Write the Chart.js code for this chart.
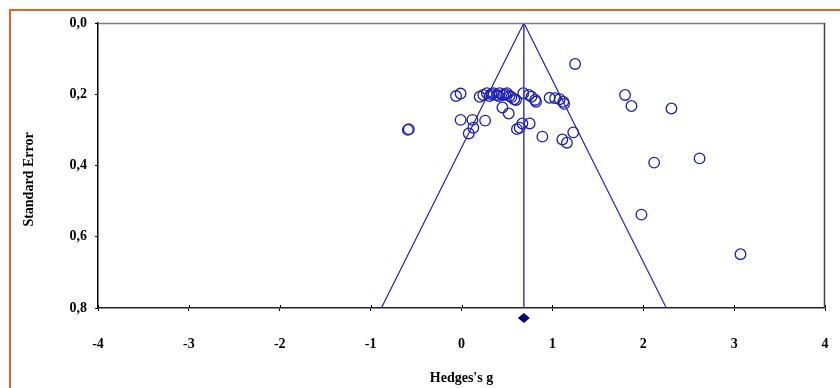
<!DOCTYPE html>
<html>
<head>
<meta charset="utf-8">
<script src="https://cdn.jsdelivr.net/npm/chart.js@4.4.1/dist/chart.umd.min.js"></script>
<style>
  html, body { margin: 0; padding: 0; background: #ffffff; }
  canvas { display: block; }
</style>
</head>
<body>
<canvas id="c" width="840" height="388"></canvas>
<script>
// ---- Data ----
const hedgesG = [
  1.25, -0.06, -0.01, 0.20, 0.24, 0.28, 0.31, 0.33, 0.35, 0.39, 0.41, 0.42, 0.46, 0.48,
  0.50, 0.53, 0.55, 0.58, 0.60, 0.68, 0.74, 0.77, 0.81, 0.82, 0.97, 1.03, 1.08, 1.12,
  1.13, 0.45, 0.52, -0.01, 0.12, 0.26, 0.13, 0.08, 0.67, 0.75, 0.61, 0.64, 0.89, 1.11,
  1.16, 1.23, -0.59, -0.58, 1.80, 1.87, 2.31, 2.12, 2.62, 1.98, 3.07
];
const standardError = [
  0.115, 0.205, 0.198, 0.207, 0.202, 0.197, 0.205, 0.200, 0.197, 0.202, 0.205, 0.197, 0.202, 0.200,
  0.197, 0.205, 0.208, 0.214, 0.216, 0.197, 0.202, 0.207, 0.216, 0.221, 0.210, 0.211, 0.214, 0.221,
  0.227, 0.237, 0.254, 0.272, 0.272, 0.274, 0.294, 0.310, 0.282, 0.282, 0.298, 0.294, 0.319, 0.327,
  0.336, 0.307, 0.300, 0.298, 0.202, 0.233, 0.240, 0.392, 0.380, 0.538, 0.649
];
const funnelX = [-0.882, 0.686, 2.254];
const funnelY = [0.8, 0.0, 0.8];
const meanLineX = [0.686, 0.686];
const meanLineY = [0.0, 0.8];
const diamondX = [0.686];
const diamondY = [0.828];
const xTicks = [-4, -3, -2, -1, 0, 1, 2, 3, 4];
const yTicks = [0.0, 0.2, 0.4, 0.6, 0.8];
const xTitle = "Hedges's g";
const yTitle = "Standard Error";

// ---- Build datasets ----
const pts = hedgesG.map((g, i) => ({ x: g, y: standardError[i] }));
const funnelPts = funnelX.map((x, i) => ({ x, y: funnelY[i] }));
const meanPts = meanLineX.map((x, i) => ({ x, y: meanLineY[i] }));

const FONT = "'Liberation Serif', 'Times New Roman', serif";

const decorPlugin = {
  id: 'decor',
  beforeDraw(chart) {
    const ctx = chart.ctx;
    ctx.save();
    ctx.fillStyle = '#ffffff';
    ctx.fillRect(0, 0, chart.width, chart.height);
    ctx.strokeStyle = '#d9692a';
    ctx.lineWidth = 2;
    ctx.beginPath();
    ctx.moveTo(10, chart.height);
    ctx.lineTo(10, 10);
    ctx.lineTo(chart.width, 10);
    ctx.stroke();
    ctx.restore();
  },
  afterDraw(chart) {
    const ctx = chart.ctx;
    const a = chart.chartArea;
    const xs = chart.scales.x, ys = chart.scales.y;
    ctx.save();
    ctx.lineWidth = 1.5;
    ctx.strokeStyle = '#7a7a7a';
    ctx.beginPath();
    ctx.moveTo(a.left, a.top + 0.5);
    ctx.lineTo(a.right, a.top + 0.5);
    ctx.stroke();
    ctx.strokeStyle = '#444444';
    ctx.beginPath();
    ctx.moveTo(a.right - 0.5, a.top);
    ctx.lineTo(a.right - 0.5, a.bottom);
    ctx.stroke();
    ctx.lineWidth = 1;
    ctx.strokeStyle = '#000000';
    xTicks.forEach(v => {
      const px = Math.round(xs.getPixelForValue(v)) + 0.5;
      ctx.beginPath();
      ctx.moveTo(px, a.bottom - 3);
      ctx.lineTo(px, a.bottom);
      ctx.stroke();
    });
    ctx.fillStyle = '#000080';
    diamondX.forEach((dx, i) => {
      const cx = xs.getPixelForValue(dx);
      const cy = ys.getPixelForValue(diamondY[i]);
      ctx.beginPath();
      ctx.moveTo(cx, cy - 5);
      ctx.lineTo(cx + 6, cy);
      ctx.lineTo(cx, cy + 5);
      ctx.lineTo(cx - 6, cy);
      ctx.closePath();
      ctx.fill();
    });
    ctx.restore();
  }
};

new Chart(document.getElementById('c'), {
  type: 'scatter',
  data: {
    datasets: [
      {
        type: 'line',
        data: funnelPts,
        borderColor: '#2323b4',
        borderWidth: 1.2,
        pointRadius: 0,
        fill: false,
        tension: 0
      },
      {
        type: 'line',
        data: meanPts,
        borderColor: '#3a3ac8',
        borderWidth: 1.5,
        pointRadius: 0,
        fill: false
      },
      {
        data: pts,
        pointStyle: 'circle',
        pointRadius: 5.3,
        pointBorderWidth: 1.3,
        pointBorderColor: '#1e1eb4',
        pointBackgroundColor: 'rgba(0,0,0,0)',
        showLine: false
      }
    ]
  },
  options: {
    responsive: false,
    animation: false,
    devicePixelRatio: 1,
    layout: { padding: { top: 23, right: 15, left: 0, bottom: 0 } },
    plugins: { legend: { display: false }, tooltip: { enabled: false } },
    scales: {
      x: {
        type: 'linear',
        min: -4, max: 4,
        afterBuildTicks(scale) { scale.ticks = xTicks.map(v => ({ value: v })); },
        afterFit(scale) { scale.height = 80; scale.paddingLeft = 4; scale.paddingRight = 4; },
        ticks: {
          padding: 25,
          color: '#000000',
          font: { family: FONT, size: 14, weight: 'bold' },
          callback: v => String(v)
        },
        grid: { display: true, drawOnChartArea: false, drawTicks: true, tickLength: 3, color: '#000000' },
        border: { display: true, color: '#222222', width: 1.5 },
        title: {
          display: true, text: xTitle, color: '#000000',
          font: { family: FONT, size: 14, weight: 'bold' },
          padding: { top: 0, bottom: 1 }
        }
      },
      y: {
        type: 'linear',
        min: 0, max: 0.8,
        reverse: true,
        afterBuildTicks(scale) { scale.ticks = yTicks.map(v => ({ value: v })); },
        afterFit(scale) { scale.width = 98; },
        ticks: {
          padding: 8,
          color: '#000000',
          font: { family: FONT, size: 14, weight: 'bold' },
          callback: v => v.toFixed(1).replace('.', ',')
        },
        grid: { display: true, drawOnChartArea: false, drawTicks: true, tickLength: 3, color: '#000000' },
        border: { display: true, color: '#000000', width: 1.5 },
        title: {
          display: true, text: yTitle + '        ', color: '#000000',
          font: { family: FONT, size: 14, weight: 'bold' },
          padding: { top: 21, bottom: 0 }
        }
      }
    }
  },
  plugins: [decorPlugin]
});
</script>
</body>
</html>
